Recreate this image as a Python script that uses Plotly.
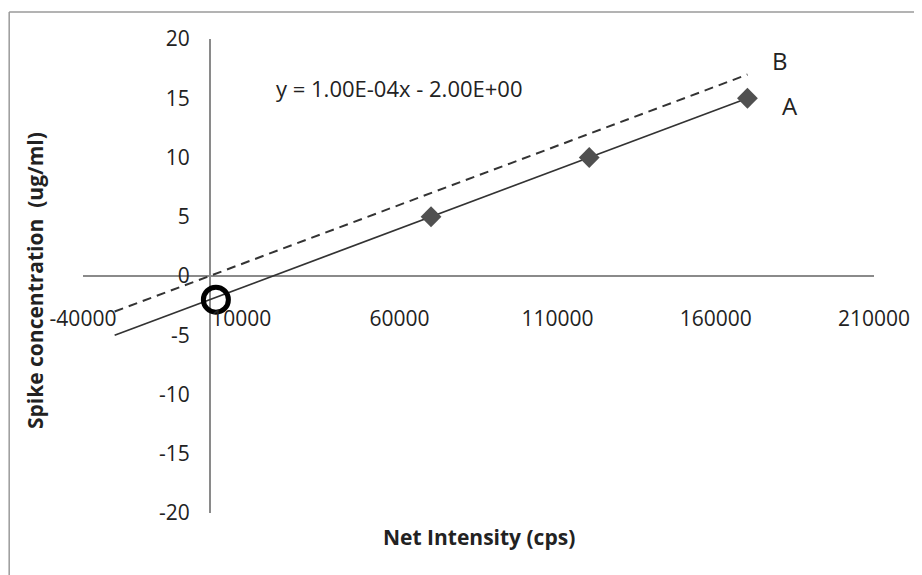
import plotly.graph_objects as go

# ---- data ----
points_x = [70000, 120000, 170000]
points_y = [5, 10, 15]
lineA_x = [-30000, 170000]
lineA_y = [-5, 15]
lineB_x = [-30000, 170000]
lineB_y = [-3, 17]
intercept_x = [2000]
intercept_y = [-2]
x_ticks = [-40000, 10000, 60000, 110000, 160000, 210000]
y_ticks = [-20, -15, -10, -5, 0, 5, 10, 15, 20]
equation = "y = 1.00E-04x - 2.00E+00"

# page has an 8px body margin; figure coordinates = page coordinates - 8
OFF = 8
W, H = 922 - OFF, 575 - OFF
ML, MT = 83 - OFF, 39 - OFF
MR = W - (876 - OFF)
MB = H - (513 - OFF)
PW, PH = W - ML - MR, H - MT - MB

def px(p):  # page pixel x -> paper
    return (p - OFF - ML) / PW

def py(p):  # page pixel y -> paper
    return (H - MB - (p - OFF)) / PH

FONT = "Open Sans"
ink = "#222222"

fig = go.Figure()
fig.add_trace(go.Scatter(x=lineB_x, y=lineB_y, mode="lines",
                         line=dict(color="#333333", width=2, dash="9px,6px"),
                         showlegend=False, hoverinfo="skip"))
fig.add_trace(go.Scatter(x=lineA_x, y=lineA_y, mode="lines",
                         line=dict(color="#333333", width=1.7),
                         showlegend=False, hoverinfo="skip"))
fig.add_trace(go.Scatter(x=points_x, y=points_y, mode="markers",
                         marker=dict(symbol="diamond", size=16, color="#505050",
                                     line=dict(width=0)),
                         showlegend=False))
fig.add_trace(go.Scatter(x=intercept_x, y=intercept_y, mode="markers",
                         marker=dict(symbol="circle-open", size=25, color="#000000",
                                     line=dict(width=5, color="#000000")),
                         showlegend=False))

fig.update_layout(
    width=W, height=H,
    margin=dict(l=ML, r=MR, t=MT, b=MB, pad=0),
    paper_bgcolor="white", plot_bgcolor="white",
    font=dict(family=FONT, size=21, color=ink),
    xaxis=dict(range=[-40000, 210000], tickvals=x_ticks,
               ticktext=[str(v) for v in x_ticks],
               showgrid=False, showline=False, ticks="",
               zeroline=True, zerolinecolor="#8a8a8a", zerolinewidth=1.6,
               anchor="free", position=py(304),
               tickfont=dict(family=FONT, size=21, color=ink)),
    yaxis=dict(range=[-20, 20], tickvals=y_ticks,
               ticktext=[str(v) for v in y_ticks],
               showgrid=False, showline=False, ticks="",
               zeroline=True, zerolinecolor="#8a8a8a", zerolinewidth=1.6,
               anchor="free", position=px(210), ticklabelstandoff=20,
               tickfont=dict(family=FONT, size=21, color=ink)),
)

fig.add_annotation(x=20500, y=15.9, text=equation, showarrow=False,
                   xanchor="left", yanchor="middle",
                   font=dict(family=FONT, size=22, color=ink))
fig.add_annotation(x=180300, y=18.2, text="B", showarrow=False,
                   font=dict(family=FONT, size=24, color=ink))
fig.add_annotation(x=183500, y=14.35, text="A", showarrow=False,
                   font=dict(family=FONT, size=24, color=ink))

fig.add_annotation(xref="paper", yref="paper", x=px(35), y=py(281),
                   text="<b>Spike concentration  (ug/ml)</b>", textangle=-90,
                   showarrow=False, xanchor="center", yanchor="middle",
                   font=dict(family=FONT, size=21, color=ink))
fig.add_annotation(xref="paper", yref="paper", x=px(480), y=py(537),
                   text="<b>Net Intensity (cps)</b>", showarrow=False,
                   xanchor="center", yanchor="middle",
                   font=dict(family=FONT, size=21, color=ink))

# outer chart border (top and left only visible)
fig.add_shape(type="line", xref="paper", yref="paper",
              x0=px(9), x1=px(930), y0=py(12), y1=py(12),
              line=dict(color="#9a9a9a", width=1.5))
fig.add_shape(type="line", xref="paper", yref="paper",
              x0=px(9), x1=px(9), y0=py(12), y1=py(580),
              line=dict(color="#9a9a9a", width=1.5))

fig.write_html("out.html")
